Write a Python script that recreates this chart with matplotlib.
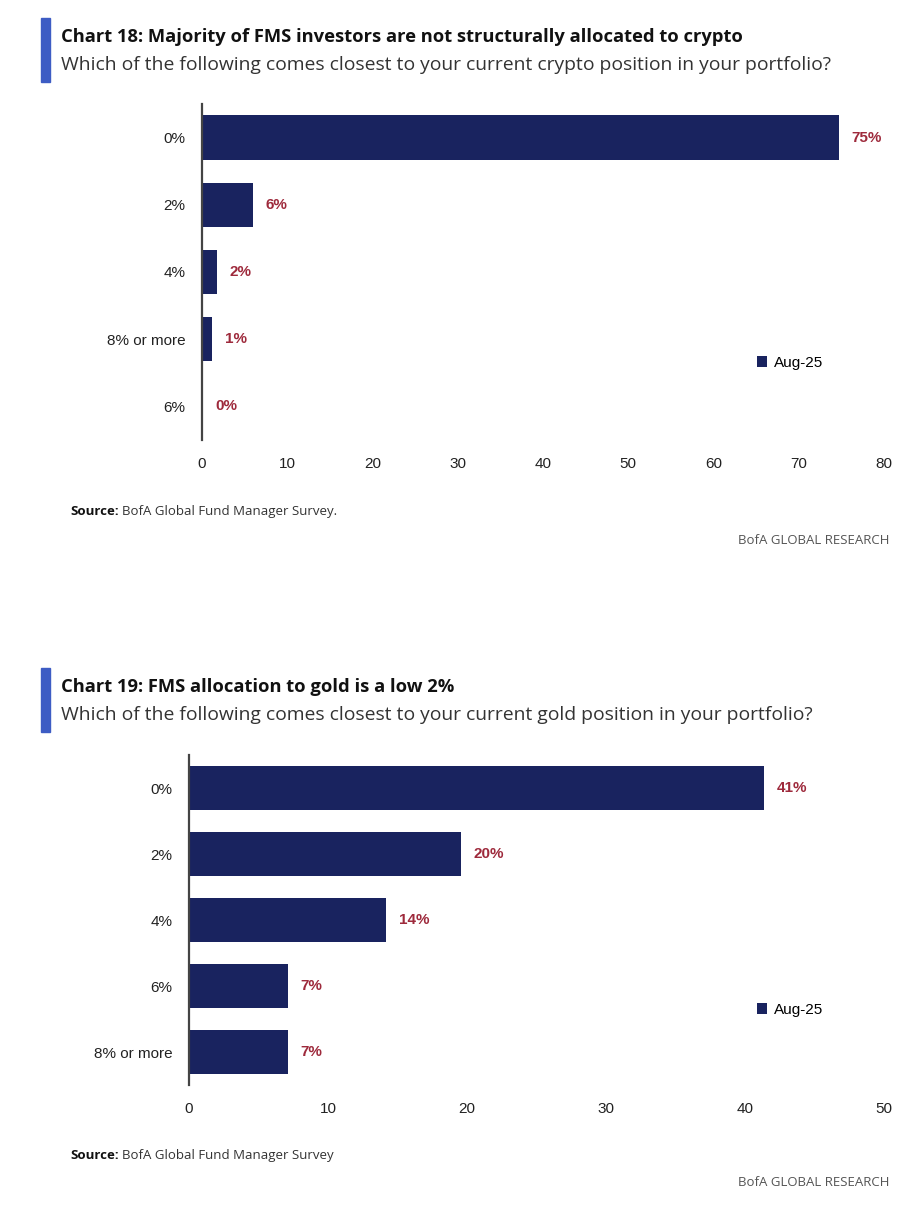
import matplotlib.pyplot as plt
from matplotlib.patches import Rectangle

W, H = 907, 1207

crypto_cats = ["0%", "2%", "4%", "8% or more", "6%"]
crypto_vals = [74.7, 5.95, 1.8, 1.2, 0.15]
crypto_labels = ["75%", "6%", "2%", "1%", "0%"]

gold_cats = ["0%", "2%", "4%", "6%", "8% or more"]
gold_vals = [41.4, 19.6, 14.2, 7.1, 7.1]
gold_labels = ["41%", "20%", "14%", "7%", "7%"]

series_name = "Aug-25"

navy = "#19235f"
red = "#9e2a3c"
accent = "#3d5cc4"
title_font = ["Open Sans", "DejaVu Sans"]
body_font = ["Liberation Sans", "DejaVu Sans"]

plt.rcParams["font.family"] = body_font

fig = plt.figure(figsize=(W / 100, H / 100), dpi=100)


def px_axes(x0, y_top, x1, y_bot):
    return fig.add_axes([x0 / W, 1 - y_bot / H, (x1 - x0) / W, (y_bot - y_top) / H])


def draw_panel(top, title, subtitle, cats, vals, labels, xmax, ax_box, legend_y, src_text, src_y, res_y):
    # blue accent stripe + headings
    fig.patches.append(Rectangle((41 / W, 1 - (top + 64) / H), 9 / W, 64 / H,
                                 transform=fig.transFigure, color=accent))
    fig.text(61 / W, 1 - (top + 19) / H, title, fontsize=13.2, fontweight="bold",
             family=title_font, va="center", color="#111111")
    fig.text(61 / W, 1 - (top + 47) / H, subtitle, fontsize=13.9, family=title_font,
             va="center", color="#333333")

    ax = px_axes(*ax_box)
    y = list(range(len(cats)))
    ax.barh(y, vals, height=0.66, color=navy, label=series_name)
    for yi, v, lab in zip(y, vals, labels):
        ax.annotate(lab, (v, yi), xytext=(9, 0), textcoords="offset points",
                    va="center", ha="left", fontsize=11, fontweight="bold", color=red)
    ax.set_yticks(y)
    ax.set_yticklabels(cats)
    ax.set_ylim(len(cats) - 0.5, -0.5)
    ax.set_xlim(0, xmax)
    ax.set_xticks(range(0, xmax + 1, 10))
    ax.tick_params(axis="both", length=0, labelsize=11, colors="#222222")
    ax.tick_params(axis="y", pad=12)
    ax.tick_params(axis="x", pad=12)
    for s in ["top", "right", "bottom"]:
        ax.spines[s].set_visible(False)
    ax.spines["left"].set_color("#444444")
    ax.spines["left"].set_linewidth(1.6)
    ax.legend(loc="center left", bbox_to_anchor=(743 / W, 1 - legend_y / H),
              bbox_transform=fig.transFigure, frameon=False, fontsize=11,
              handlelength=0.7, handleheight=0.7, handletextpad=0.4)

    # source line, both parts on one baseline
    fig.text(70 / W, 1 - (src_y + 5) / H, "Source:", fontsize=9.5, fontweight="bold",
             family=title_font, va="baseline", color="#111111")
    fig.text(122 / W, 1 - (src_y + 5) / H, src_text, fontsize=9.5, family=title_font,
             va="baseline", color="#333333")
    fig.text(889 / W, 1 - res_y / H, "BofA GLOBAL RESEARCH", fontsize=9.5,
             family=title_font, va="center", ha="right", color="#555555")


draw_panel(18, "Chart 18: Majority of FMS investors are not structurally allocated to crypto",
           "Which of the following comes closest to your current crypto position in your portfolio?",
           crypto_cats, crypto_vals, crypto_labels, 80, (202, 104, 884, 440), 363,
           "BofA Global Fund Manager Survey.", 510, 540)

draw_panel(668, "Chart 19: FMS allocation to gold is a low 2%",
           "Which of the following comes closest to your current gold position in your portfolio?",
           gold_cats, gold_vals, gold_labels, 50, (189, 755, 884, 1085), 1010,
           "BofA Global Fund Manager Survey", 1154, 1183)

fig.savefig("out.png", dpi=100)
